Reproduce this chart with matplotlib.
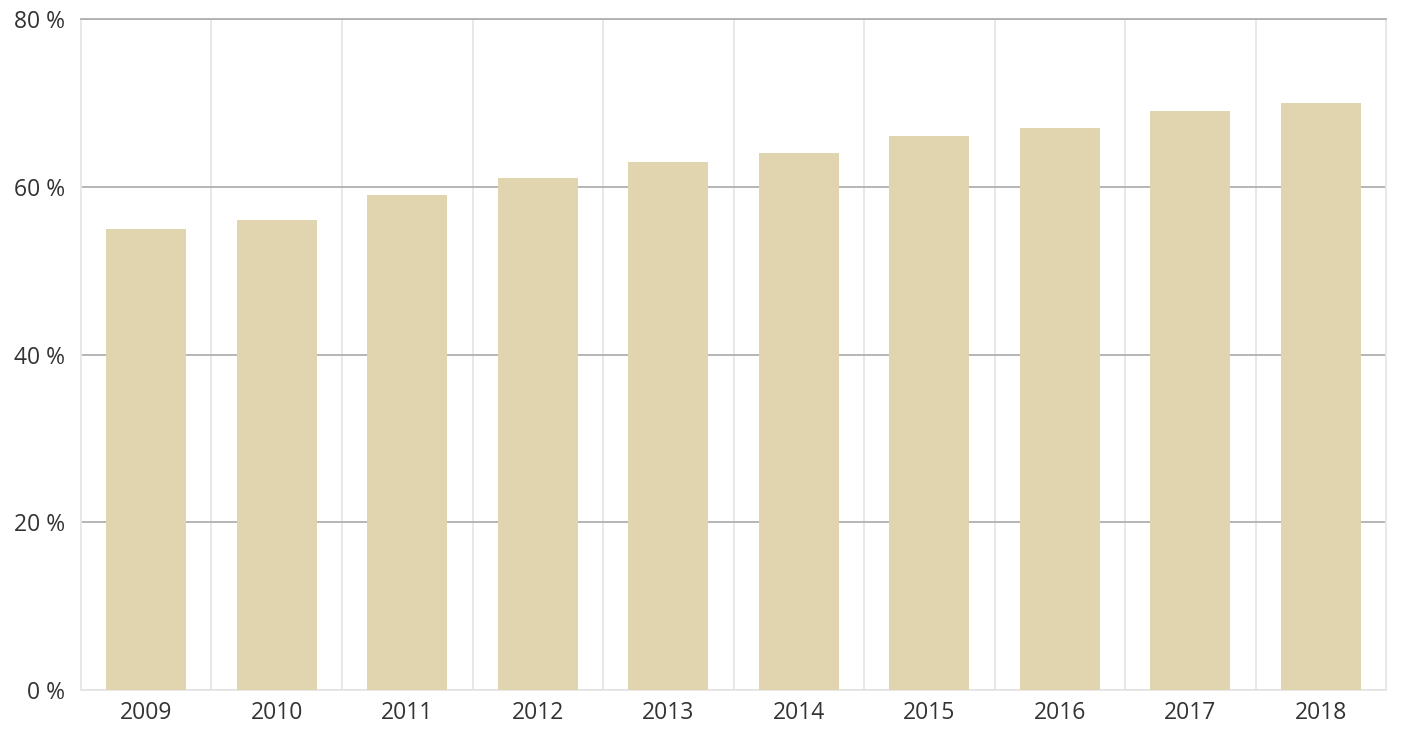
import matplotlib
matplotlib.use("Agg")
import matplotlib.pyplot as plt

years = ["2009", "2010", "2011", "2012", "2013", "2014", "2015", "2016", "2017", "2018"]
share = [55, 56, 59, 61, 63, 64, 66, 67, 69, 70]
y_ticks = [0, 20, 40, 60, 80]

plt.rcParams['font.family'] = ['Open Sans', 'DejaVu Sans']

fig = plt.figure(figsize=(14.06, 7.32), dpi=100)
ax = fig.add_axes([0.0576, 0.0574, 0.9282, 0.9166])

x = range(len(years))
ax.bar(x, share, width=0.613, color="#e0d5ae", zorder=3)

ax.set_xlim(-0.5, len(years) - 0.5)
ax.set_ylim(0, 80)
ax.set_xticks(list(x))
ax.set_xticklabels(years)
ax.set_xticks([i + 0.5 for i in range(len(years) - 1)], minor=True)
ax.set_yticks(y_ticks)
ax.set_yticklabels([f"{v} %" for v in y_ticks])

ax.grid(axis='y', which='major', color="#b0b0b0", linewidth=1.3, zorder=1)
ax.grid(axis='x', which='minor', color="#e6e6e6", linewidth=1.3, zorder=1)
ax.set_axisbelow(True)

ax.tick_params(axis='both', which='both', length=0, labelsize=16.5, colors="#333333")
ax.tick_params(axis='y', pad=11.5)
ax.tick_params(axis='x', pad=8)

# top edge drawn like a gridline
ax.spines['top'].set_color("#b0b0b0")
ax.spines['top'].set_linewidth(1.3)
for s in ['left', 'right', 'bottom']:
    ax.spines[s].set_color("#e6e6e6")
    ax.spines[s].set_linewidth(1.3)

plt.savefig("out.png", dpi=100)
